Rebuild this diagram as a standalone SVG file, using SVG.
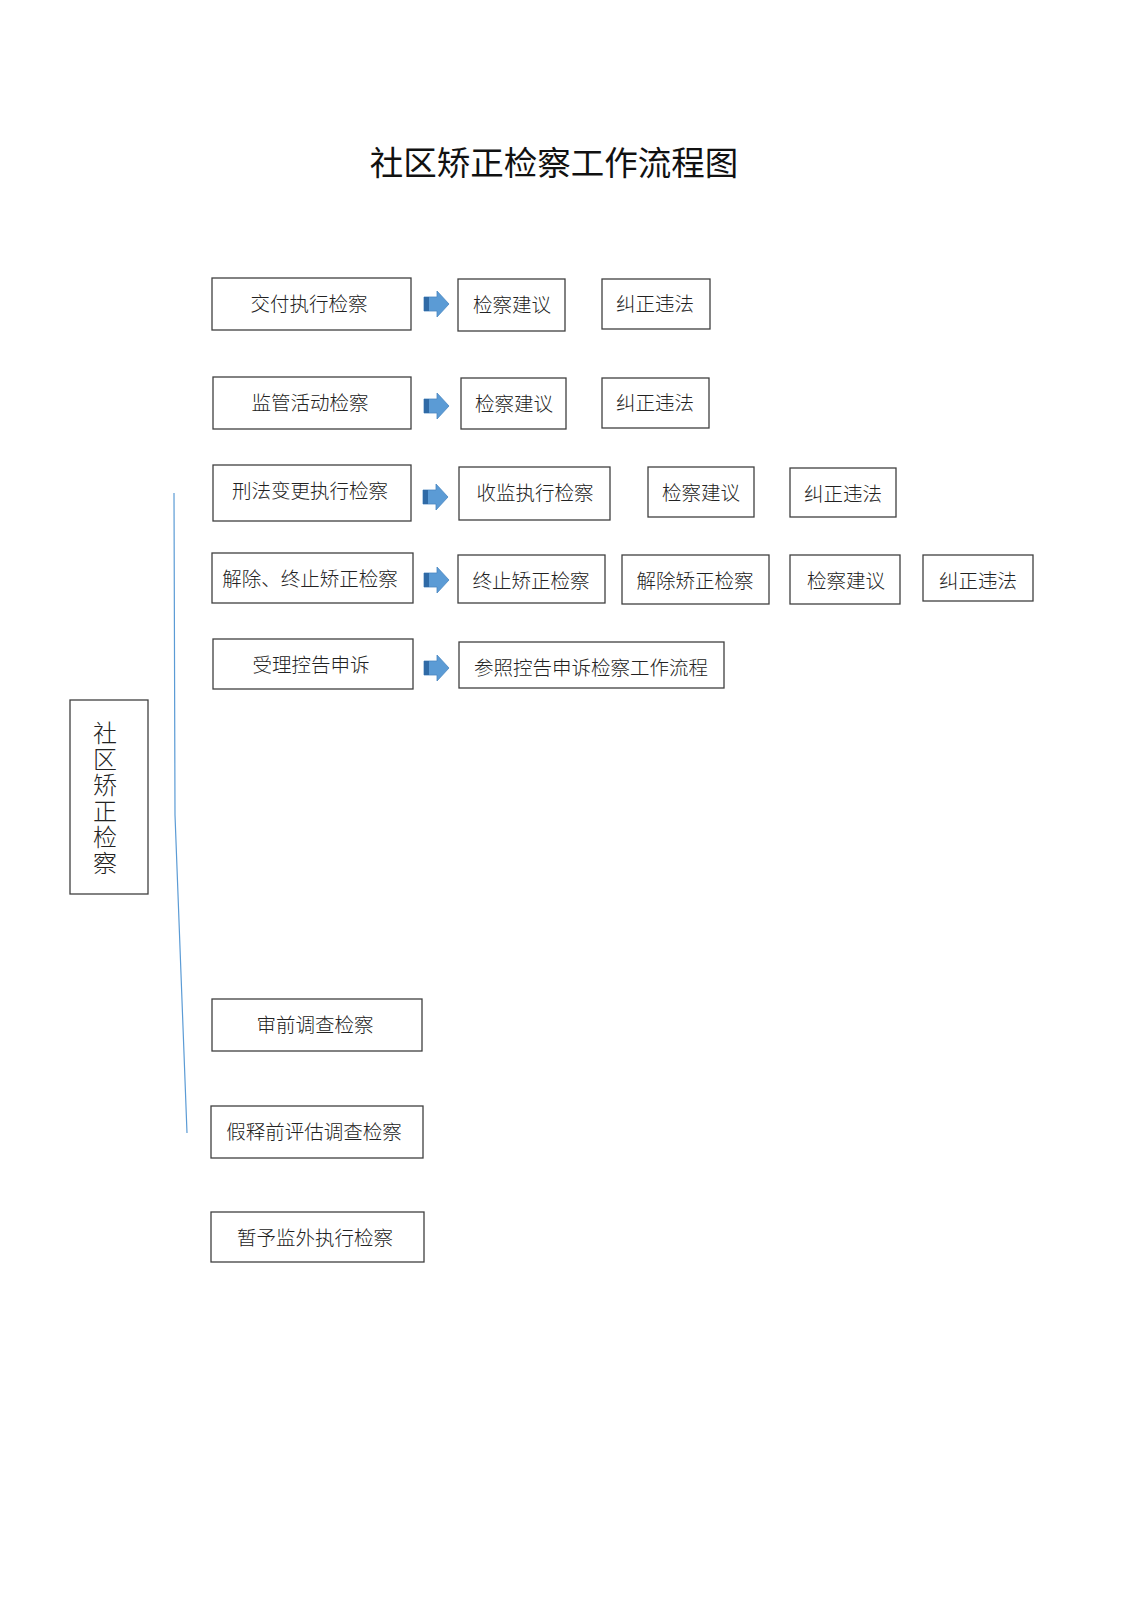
<svg xmlns="http://www.w3.org/2000/svg" xmlns:xlink="http://www.w3.org/1999/xlink" width="1131" height="1600" viewBox="0 0 1131 1600">
<style>
.box{fill:#fff;stroke:#404040;stroke-width:1.3}
.t{font-family:"Noto Sans CJK SC","Liberation Sans",sans-serif;font-size:19.5px;font-weight:300;fill:#222;text-anchor:middle;dominant-baseline:central}
.title{font-family:"Noto Sans CJK SC","Liberation Sans",sans-serif;font-size:33.5px;fill:#111;text-anchor:middle}
.v{font-family:"Noto Sans CJK SC","Liberation Sans",sans-serif;font-size:24px;font-weight:300;fill:#222;writing-mode:vertical-rl;letter-spacing:2px;text-anchor:start;dominant-baseline:central}
</style>
<defs>
<g id="arr">
<path d="M0,-7 L13,-7 L13,-13 L25,0 L13,13 L13,7 L0,7 Z" fill="#5b9bd5" stroke="#4a86c0" stroke-width="0.8"/>
<rect x="0" y="-7" width="5" height="14" fill="#2f6aa6"/>
</g>
</defs>
<rect width="1131" height="1600" fill="#fff"/>
<text class="title" x="554" y="175">社区矫正检察工作流程图</text>

<g id="connectors">
<polyline points="174,493 175,815 187,1133" fill="none" stroke="#5b9bd5" stroke-width="1.2"/>
<use xlink:href="#arr" x="424" y="304"/>
<use xlink:href="#arr" x="424" y="406"/>
<use xlink:href="#arr" x="423" y="497"/>
<use xlink:href="#arr" x="424" y="580"/>
<use xlink:href="#arr" x="424" y="668"/>
</g>

<g id="n-main"><rect class="box" x="70" y="700" width="78" height="194"/>
<text class="v" x="105" y="721">社区矫正检察</text></g>

<g id="n1"><rect class="box" x="212" y="278" width="199" height="52"/><text class="t" x="309" y="302">交付执行检察</text></g>
<g id="n1a"><rect class="box" x="458" y="279" width="107" height="52"/><text class="t" x="512" y="303">检察建议</text></g>
<g id="n1b"><rect class="box" x="602" y="279" width="108" height="50"/><text class="t" x="655" y="302">纠正违法</text></g>

<g id="n2"><rect class="box" x="213" y="377" width="198" height="52"/><text class="t" x="310" y="401">监管活动检察</text></g>
<g id="n2a"><rect class="box" x="461" y="378" width="105" height="51"/><text class="t" x="514" y="402">检察建议</text></g>
<g id="n2b"><rect class="box" x="602" y="378" width="107" height="50"/><text class="t" x="655" y="401">纠正违法</text></g>

<g id="n3"><rect class="box" x="213" y="465" width="198" height="56"/><text class="t" x="310" y="489">刑法变更执行检察</text></g>
<g id="n3a"><rect class="box" x="459" y="467" width="151" height="53"/><text class="t" x="535" y="491">收监执行检察</text></g>
<g id="n3b"><rect class="box" x="648" y="467" width="106" height="50"/><text class="t" x="701" y="491">检察建议</text></g>
<g id="n3c"><rect class="box" x="790" y="468" width="106" height="49"/><text class="t" x="843" y="492">纠正违法</text></g>

<g id="n4"><rect class="box" x="212" y="553" width="201" height="50"/><text class="t" x="310" y="577">解除、终止矫正检察</text></g>
<g id="n4a"><rect class="box" x="458" y="555" width="147" height="48"/><text class="t" x="531" y="579">终止矫正检察</text></g>
<g id="n4b"><rect class="box" x="622" y="555" width="147" height="49"/><text class="t" x="695" y="579">解除矫正检察</text></g>
<g id="n4c"><rect class="box" x="790" y="555" width="110" height="49"/><text class="t" x="846" y="579">检察建议</text></g>
<g id="n4d"><rect class="box" x="923" y="555" width="110" height="46"/><text class="t" x="978" y="579">纠正违法</text></g>

<g id="n5"><rect class="box" x="213" y="639" width="200" height="50"/><text class="t" x="311" y="663">受理控告申诉</text></g>
<g id="n5a"><rect class="box" x="459" y="642" width="265" height="46"/><text class="t" x="591" y="666">参照控告申诉检察工作流程</text></g>

<g id="n6"><rect class="box" x="212" y="999" width="210" height="52"/><text class="t" x="315" y="1023">审前调查检察</text></g>
<g id="n7"><rect class="box" x="211" y="1106" width="212" height="52"/><text class="t" x="314" y="1130">假释前评估调查检察</text></g>
<g id="n8"><rect class="box" x="211" y="1212" width="213" height="50"/><text class="t" x="315" y="1236">暂予监外执行检察</text></g>
</svg>
